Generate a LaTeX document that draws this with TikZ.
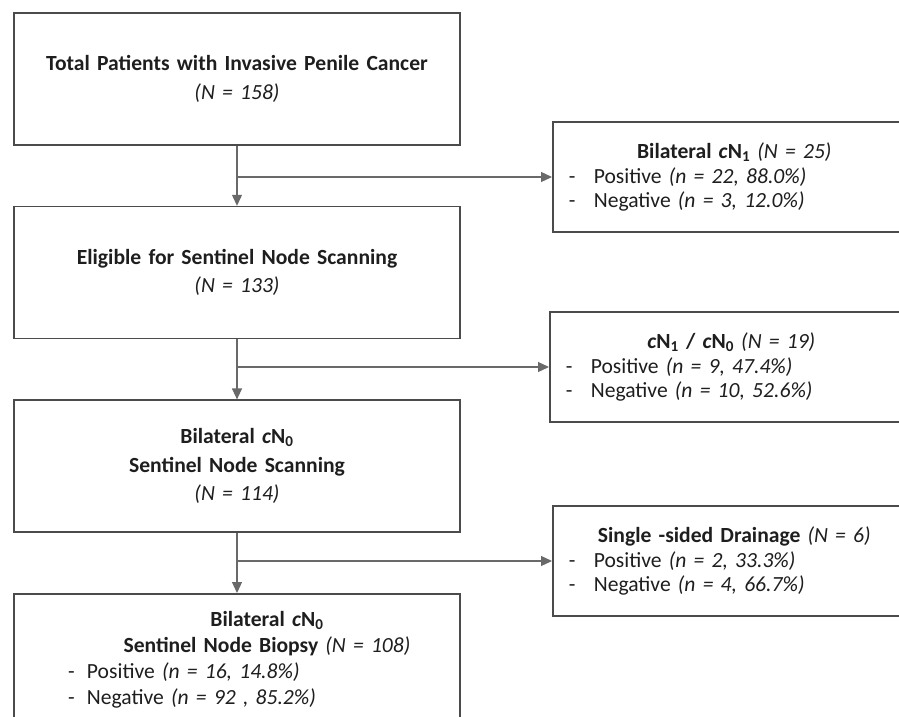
\documentclass[tikz,border=0pt]{standalone}
\usepackage{fontspec}
\setmainfont{Carlito}
\usetikzlibrary{
  arrows.meta,
  positioning,
}
\definecolor{boxgrey}{RGB}{75, 75, 75}
\definecolor{linegrey}{RGB}{105, 105, 105}
\definecolor{textgrey}{RGB}{30, 30, 30}
\tikzstyle{arrow} = [
  -{Triangle[length=11pt, width=10pt]},
  line width=1.2pt,
  linegrey,
]
\newcommand{\itm}[3]{\makebox[\linewidth][l]{\hspace*{#1}\makebox[#2][l]{-}#3}}
\newcommand{\cn}[1]{\textit{c}N\textsubscript{#1}}

\begin{document}
\begin{tikzpicture}[x=1pt, y=-1pt, node distance=60pt,
    box/.style={draw=boxgrey, line width=1.6pt, text width=426pt, inner sep=10pt,
                minimum height=132pt, align=center, text=textgrey,
                font=\fontsize{21.6}{28.5}\selectfont},
    sidebox/.style={box, text width=343pt, minimum height=110pt,
                    font=\fontsize{21.6}{24.5}\selectfont}]
      \useasboundingbox (0,0) rectangle (899,717);
      \clip (0,0) rectangle (899,717);

      \node [box] (total) at (237,79)
            {\textbf{Total Patients with Invasive Penile Cancer}\\ \textit{(N = 158)}};

      \node [box, below=of total] (eligible)
            {\textbf{Eligible for Sentinel Node Scanning}\\ \textit{(N = 133)}};

      \node [box, below=of eligible] (scanning)
            {\textbf{Bilateral \cn{0}}\\ \textbf{Sentinel Node Scanning}\\ \textit{(N = 114)}};

      \node [box, below=of scanning, font=\fontsize{21.6}{26}\selectfont] (biopsy)
            {\hspace*{60pt}\textbf{Bilateral \cn{0}}\\
             \hspace*{60pt}\textbf{Sentinel Node Biopsy} \textit{(N = 108)}\\
             \itm{44pt}{19pt}{Positive \textit{(n = 16, 14.8\%)}}\\
             \itm{44pt}{19pt}{Negative \textit{(n = 92 , 85.2\%)}}};

      \node [sidebox, anchor=west] (bilatcn) at (552,177)
            {\textbf{Bilateral \cn{1}} \textit{(N = 25)}\\
             \itm{6pt}{25pt}{Positive \textit{(n = 22, 88.0\%)}}\\
             \itm{6pt}{25pt}{Negative \textit{(n = 3, 12.0\%)}}};

      \node [sidebox, anchor=west] (mixedcn) at (549,367)
            {\textbf{\cn{1} / \cn{0}} \textit{(N = 19)}\\
             \itm{6pt}{25pt}{Positive \textit{(n = 9, 47.4\%)}}\\
             \itm{6pt}{25pt}{Negative \textit{(n = 10, 52.6\%)}}};

      \node [sidebox, anchor=west] (single) at (552,561)
            {\textbf{Single -sided Drainage} \textit{(N = 6)}\\
             \itm{6pt}{25pt}{Positive \textit{(n = 2, 33.3\%)}}\\
             \itm{6pt}{25pt}{Negative \textit{(n = 4, 66.7\%)}}};

      \draw [arrow] (total) -- (eligible);
      \draw [arrow] (eligible) -- (scanning);
      \draw [arrow] (scanning) -- (biopsy);

      \draw [arrow] (total.south |- bilatcn.west) -- (bilatcn.west);
      \draw [arrow] (eligible.south |- mixedcn.west) -- (mixedcn.west);
      \draw [arrow] (scanning.south |- single.west) -- (single.west);
    \end{tikzpicture}
\end{document}
